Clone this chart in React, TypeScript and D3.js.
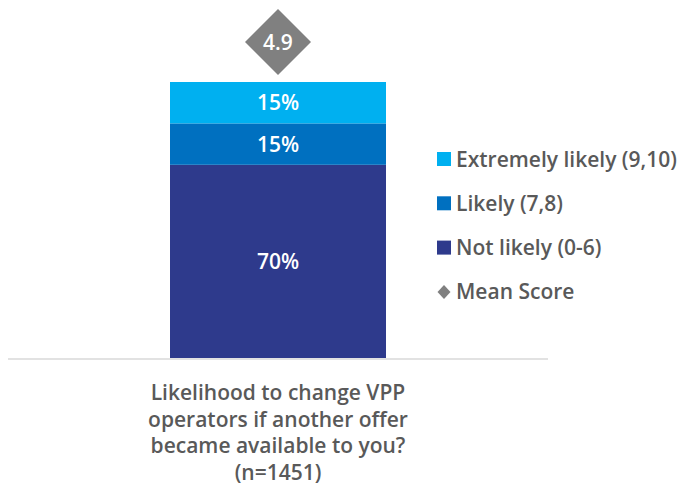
import React from "react";
import * as d3 from "d3";

const categories = ["Likelihood to change VPP operators if another offer became available to you? (n=1451)"];
const categoryLines = ["Likelihood to change VPP", "operators if another offer", "became available to you?", "(n=1451)"];
const seriesNames = ["Not likely (0-6)", "Likely (7,8)", "Extremely likely (9,10)"];
const seriesValues = [70, 15, 15];
const seriesColors = ["#2E3A8C", "#0070C0", "#00B0F0"];
const meanScore = 4.9;
const legendLabels = ["Extremely likely (9,10)", "Likely (7,8)", "Not likely (0-6)", "Mean Score"];
const legendColors = ["#00B0F0", "#0070C0", "#2E3A8C", "#808080"];

export default function App() {
  const W = 681, H = 491;
  const font = "'Open Sans', 'Noto Sans', sans-serif";
  const x = d3.scaleBand().domain(categories).range([8, 548]).paddingInner(0.6).paddingOuter(0.3);
  const y = d3.scaleLinear().domain([0, 100]).range([358, 82]);
  const stack = d3.stack<number[]>().keys(seriesNames.map((_, i) => String(i)))
    .value((d, k) => d[+k]);
  const layers = stack([seriesValues]);
  const bx = x(categories[0])!;
  const bw = x.bandwidth();
  const cx = bx + bw / 2;
  const dy = 42, dr = 33;
  return (
    <svg width={W} height={H} style={{ position: "absolute", left: 0, top: 0 }}>
      <rect width={W} height={H} fill="#fff" />
      {layers.map((l, i) => {
        const [y0, y1] = l[0];
        return (
          <g key={i}>
            <rect x={bx} y={y(y1)} width={bw} height={y(y0) - y(y1)} fill={seriesColors[i]} />
            <text x={cx} y={(y(y0) + y(y1)) / 2} dy="0.36em" textAnchor="middle" fill="#fff"
              fontFamily={font} fontSize={21} fontWeight={600}>{seriesValues[i]}%</text>
          </g>
        );
      })}
      <line x1={8} x2={548} y1={359} y2={359} stroke="#D9D9D9" strokeWidth={1.5} />
      <path d={`M${cx},${dy - dr}L${cx + dr},${dy}L${cx},${dy + dr}L${cx - dr},${dy}Z`} fill="#808080" />
      <text x={cx} y={dy} dy="0.36em" textAnchor="middle" fill="#fff" fontFamily={font} fontSize={21} fontWeight={600}>
        {meanScore.toFixed(1)}
      </text>
      {categoryLines.map((t, i) => (
        <text key={i} x={cx} y={400 + i * 26.7} textAnchor="middle" fill="#595959" fontFamily={font} fontSize={21} fontWeight={600}>{t}</text>
      ))}
      {legendLabels.map((t, i) => {
        const ly = 159 + i * 44.3;
        return (
          <g key={i}>
            {i < 3 ? (
              <rect x={437} y={ly - 7} width={14} height={14} fill={legendColors[i]} />
            ) : (
              <path d={`M444,${ly - 7}L450.5,${ly}L444,${ly + 7}L437.5,${ly}Z`} fill={legendColors[i]} />
            )}
            <text x={456} y={ly} dy="0.36em" fill="#595959" fontFamily={font} fontSize={21} fontWeight={600}>{t}</text>
          </g>
        );
      })}
    </svg>
  );
}
